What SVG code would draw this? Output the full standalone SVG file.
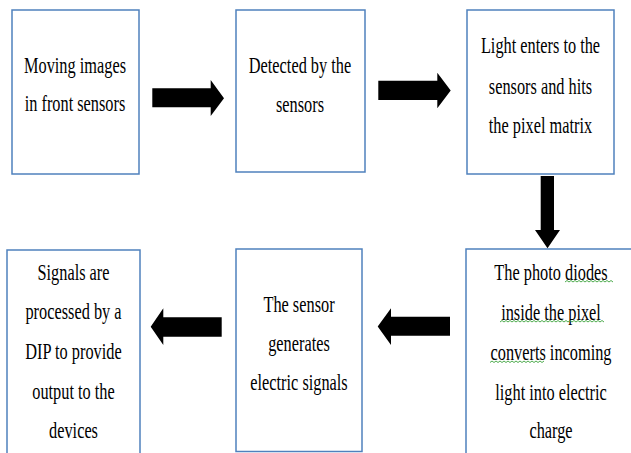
<svg xmlns="http://www.w3.org/2000/svg" width="631" height="453" viewBox="0 0 631 453">
<rect width="631" height="453" fill="#fff"/>
<g fill="#fff" stroke="#4f81bd" stroke-width="1.5">
<rect id="box1" x="12" y="10" width="127" height="164"/>
<rect id="box2" x="236" y="10" width="129" height="162"/>
<rect id="box3" x="467" y="10" width="147" height="164"/>
<rect id="box4" x="466" y="249" width="172" height="214"/>
<rect id="box5" x="236" y="249" width="126" height="202.5"/>
<rect id="box6" x="7" y="250" width="133" height="213"/>
</g>
<g font-family="Liberation Serif" font-size="23" fill="#000" text-anchor="middle">
<g id="node1">
<text transform="translate(75,73) scale(0.71,1)">Moving images</text>
<text transform="translate(75,111) scale(0.71,1)">in front sensors</text>
</g>
<g id="node2">
<text transform="translate(300,73) scale(0.71,1)">Detected by the</text>
<text transform="translate(300,112) scale(0.71,1)">sensors</text>
</g>
<g id="node3">
<text transform="translate(540.5,53) scale(0.71,1)">Light enters to the</text>
<text transform="translate(540.5,94) scale(0.71,1)">sensors and hits</text>
<text transform="translate(540.5,133) scale(0.71,1)">the pixel matrix</text>
</g>
<g id="node4">
<text transform="translate(551,280) scale(0.71,1)">The photo diodes</text>
<text transform="translate(551,320) scale(0.71,1)">inside the pixel</text>
<text transform="translate(551,360) scale(0.71,1)">converts incoming</text>
<text transform="translate(551,400) scale(0.71,1)">light into electric</text>
<text transform="translate(551,438) scale(0.71,1)">charge</text>
</g>
<g id="node5">
<text transform="translate(299,312) scale(0.71,1)">The sensor</text>
<text transform="translate(299,351) scale(0.71,1)">generates</text>
<text transform="translate(299,390) scale(0.71,1)">electric signals</text>
</g>
<g id="node6">
<text transform="translate(73.5,280) scale(0.71,1)">Signals are</text>
<text transform="translate(73.5,319) scale(0.71,1)">processed by a</text>
<text transform="translate(73.5,359) scale(0.71,1)">DIP to provide</text>
<text transform="translate(73.5,399) scale(0.71,1)">output to the</text>
<text transform="translate(73.5,438) scale(0.71,1)">devices</text>
</g>
</g>
<g fill="none" stroke="#3aa13a" stroke-width="0.9">
<polyline points="565,282 567,280.5 569,282 571,280.5 573,282 575,280.5 577,282 579,280.5 581,282 583,280.5 585,282 587,280.5 589,282 591,280.5 593,282 595,280.5 597,282 599,280.5 601,282 603,280.5 605,282 607,280.5 609,282 611,280.5 613,282"/>
<polyline points="500,322 502,320.5 504,322 506,320.5 508,322 510,320.5 512,322 514,320.5 516,322 518,320.5 520,322 522,320.5 524,322 526,320.5 528,322 530,320.5 532,322 534,320.5 536,322 538,320.5 540,322 542,320.5 544,322 546,320.5 548,322 550,320.5 552,322 554,320.5 556,322 558,320.5 560,322 562,320.5 564,322 566,320.5 568,322 570,320.5 572,322 574,320.5 576,322 578,320.5 580,322 582,320.5 584,322 586,320.5 588,322 590,320.5 592,322 594,320.5 596,322 598,320.5 600,322 602,320.5 604,322"/>
<polyline points="490,362.5 492,361 494,362.5 496,361 498,362.5 500,361 502,362.5 504,361 506,362.5 508,361 510,362.5 512,361 514,362.5 516,361 518,362.5 520,361 522,362.5 524,361 526,362.5 528,361 530,362.5 532,361 534,362.5 536,361 538,362.5 540,361 542,362.5 544,361"/>
</g>
<g id="connectors" fill="#000">
<polygon points="152.3,88.3 210.7,88.3 210.7,80 224,98.2 210.7,116 210.7,107.3 152.3,107.3"/>
<polygon points="378.3,80.7 437.3,80.7 437.3,72.7 450.7,90.5 437.3,108.3 437.3,100 378.3,100"/>
<polygon points="540.7,176 554,176 554,230 560,230 547.5,248.3 535,230 540.7,230"/>
<polygon points="150.7,326.7 163.3,308.3 163.3,317.3 221.7,317.3 221.7,336.7 163.3,336.7 163.3,345"/>
<polygon points="377.7,326.5 391,308.3 391,316.7 450,316.7 450,335.7 391,335.7 391,345"/>
</g>
</svg>
